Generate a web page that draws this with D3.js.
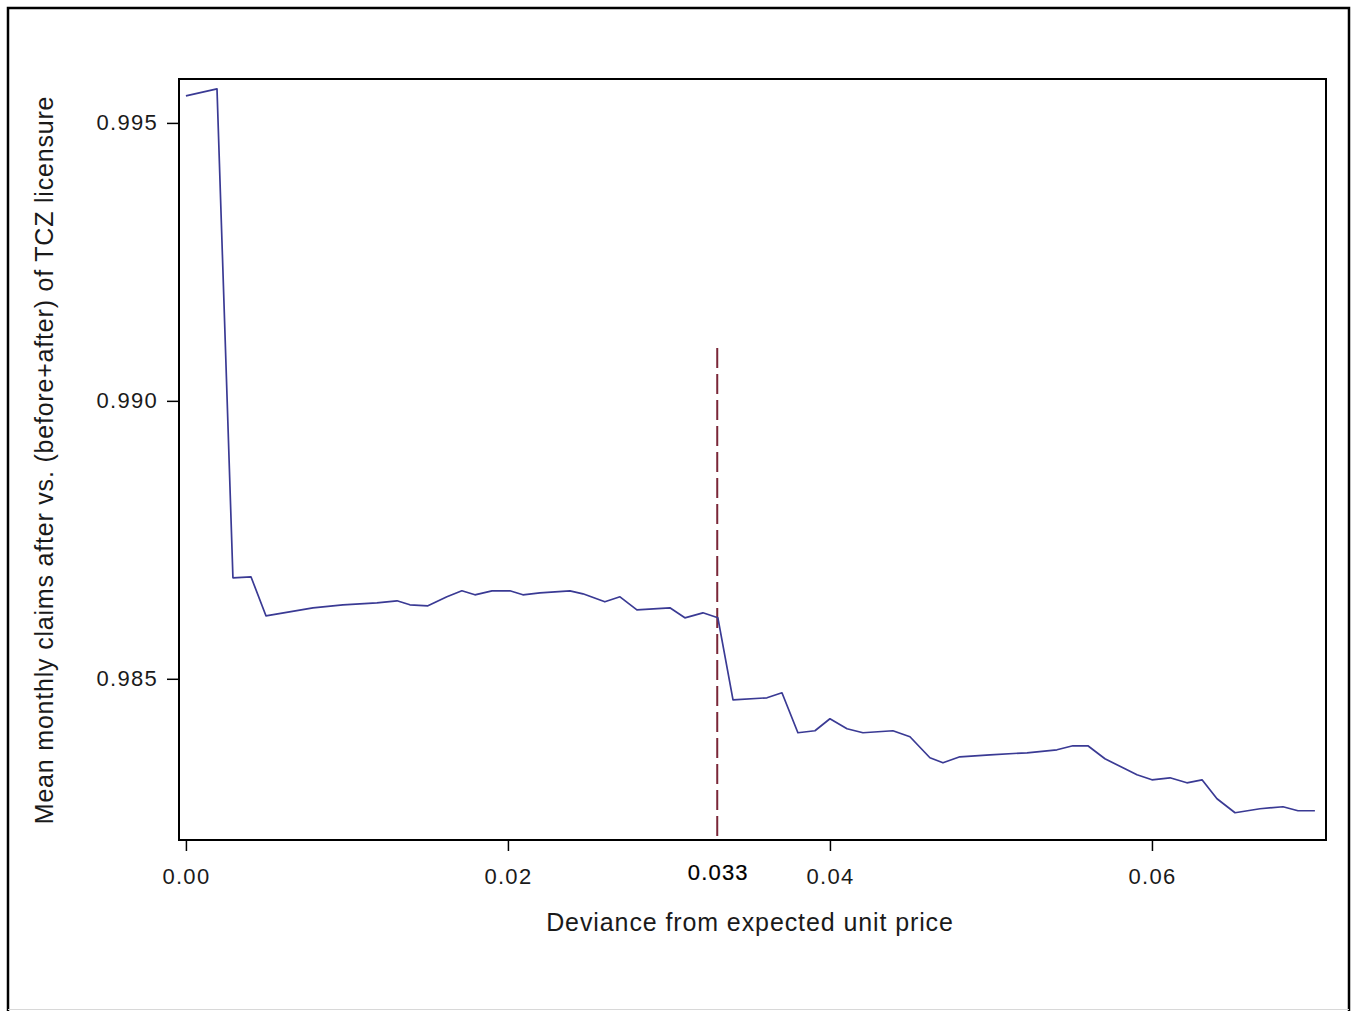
<!DOCTYPE html>
<html>
<head>
<meta charset="utf-8">
<script src="https://cdn.jsdelivr.net/npm/d3@7"></script>
<style>
  body { margin: 0; background: #fff; }
  svg { display: block; font-family: "Liberation Sans", Arial, sans-serif; }
</style>
</head>
<body>
<svg width="1355" height="1011"></svg>
<script>
(function () {
    // Data: deviance (x) vs. mean monthly claims ratio (y)
    const deviance = [
        0.0000, 0.00193, 0.00292, 0.00404, 0.00497, 0.00789, 0.00975, 0.01186,
        0.01311, 0.01391, 0.01503, 0.01621, 0.01714, 0.01795, 0.01901, 0.02012,
        0.02093, 0.02199, 0.02385, 0.02466, 0.02602, 0.02696, 0.02801, 0.03006,
        0.03099, 0.03211, 0.03304, 0.03398, 0.03609, 0.03702, 0.03801, 0.03907,
        0.04000, 0.04106, 0.04205, 0.04391, 0.04497, 0.04621, 0.04702, 0.04807,
        0.04994, 0.05224, 0.05410, 0.05509, 0.05602, 0.05708, 0.05820, 0.05907,
        0.06000, 0.06112, 0.06217, 0.06311, 0.06404, 0.06516, 0.06671, 0.06814,
        0.06907, 0.07012
    ];
    const claims = [
        0.995486, 0.995612, 0.986817, 0.986835, 0.986133, 0.986277, 0.986331, 0.986367,
        0.986403, 0.986331, 0.986313, 0.986475, 0.986583, 0.986511, 0.986583, 0.986583,
        0.986511, 0.986547, 0.986583, 0.986529, 0.986385, 0.986475, 0.986241, 0.986277,
        0.986097, 0.986187, 0.986097, 0.984622, 0.984658, 0.984748, 0.984029, 0.984065,
        0.984281, 0.984101, 0.984029, 0.984065, 0.983957, 0.983579, 0.983489, 0.983597,
        0.983633, 0.983669, 0.983723, 0.983795, 0.983795, 0.983561, 0.983399, 0.983273,
        0.983183, 0.983219, 0.983129, 0.983183, 0.982842, 0.982590, 0.982662, 0.982698,
        0.982626, 0.982626
    ];
    const xTicks = [0, 0.02, 0.04, 0.06];
    const yTicks = [0.985, 0.990, 0.995];
    const cutoff = 0.033;
    const cutoffTop = 0.99095;

    const svg = d3.select("svg");

    // Plot frame edges
    const left = 179, right = 1326, top = 79, bottom = 840;

    const x = d3.scaleLinear().domain([-0.00043, 0.07081]).range([left, right]);
    const y = d3.scaleLinear().domain([0.98210, 0.99579]).range([bottom, top]);

    // Outer border
    svg.append("path")
        .attr("d", `M8,1012 L8,8 L1349,8 L1349,1012`)
        .attr("fill", "none")
        .attr("stroke", "#000")
        .attr("stroke-width", 2.5);
    svg.append("line")
        .attr("x1", 8).attr("x2", 1349)
        .attr("y1", 1009.5).attr("y2", 1009.5)
        .attr("stroke", "#d8d8d8")
        .attr("stroke-width", 1);

    // Y axis
    const yAxis = svg.append("g")
        .attr("transform", `translate(${left},0)`)
        .call(d3.axisLeft(y).tickValues(yTicks).tickSize(12).tickPadding(9)
            .tickFormat(d3.format(".3f")));
    yAxis.select(".domain").remove();
    yAxis.selectAll("line").attr("stroke", "#000").attr("stroke-width", 1.5);
    yAxis.selectAll("text")
        .attr("fill", "#1a1a1a")
        .style("font-size", "22px")
        .style("letter-spacing", "1.3px")
        .attr("font-family", null);

    // X axis
    const xAxis = svg.append("g")
        .attr("transform", `translate(0,${bottom})`)
        .call(d3.axisBottom(x).tickValues(xTicks).tickSize(11).tickPadding(17)
            .tickFormat((d) => d === 0 ? "0.00" : d3.format(".2f")(d)));
    xAxis.select(".domain").remove();
    xAxis.selectAll("line").attr("stroke", "#000").attr("stroke-width", 1.5);
    xAxis.selectAll("text")
        .attr("fill", "#1a1a1a")
        .style("font-size", "22px")
        .style("letter-spacing", "1.3px")
        .attr("font-family", null);

    // Cutoff reference line
    svg.append("line")
        .attr("x1", x(cutoff)).attr("x2", x(cutoff))
        .attr("y1", y(cutoffTop)).attr("y2", bottom)
        .attr("stroke", "#7a2638")
        .attr("stroke-width", 2)
        .attr("stroke-dasharray", "20,6");

    svg.append("text")
        .attr("x", x(cutoff) + 1)
        .attr("y", 880)
        .attr("text-anchor", "middle")
        .attr("fill", "#000")
        .attr("stroke", "#000")
        .attr("stroke-width", 0.2)
        .style("font-size", "22px")
        .style("letter-spacing", "1.2px")
        .text(d3.format(".3f")(cutoff));

    // Data line
    const line = d3.line()
        .x((d, i) => x(deviance[i]))
        .y((d) => y(d));

    svg.append("path")
        .datum(claims)
        .attr("d", line)
        .attr("fill", "none")
        .attr("stroke", "#3a3a94")
        .attr("stroke-width", 1.7)
        .attr("stroke-linejoin", "round");

    // Plot frame
    svg.append("rect")
        .attr("x", left).attr("y", top)
        .attr("width", right - left).attr("height", bottom - top)
        .attr("fill", "none")
        .attr("stroke", "#000")
        .attr("stroke-width", 2);

    // Axis titles
    svg.append("text")
        .attr("x", 750)
        .attr("y", 931)
        .attr("text-anchor", "middle")
        .attr("fill", "#1a1a1a")
        .style("font-size", "25px")
        .style("letter-spacing", "0.9px")
        .text("Deviance from expected unit price");

    svg.append("text")
        .attr("transform", "translate(53,460) rotate(-90)")
        .attr("text-anchor", "middle")
        .attr("fill", "#1a1a1a")
        .style("font-size", "25px")
        .style("letter-spacing", "0.8px")
        .text("Mean monthly claims after vs. (before+after) of TCZ licensure");
})();
</script>
</body>
</html>
